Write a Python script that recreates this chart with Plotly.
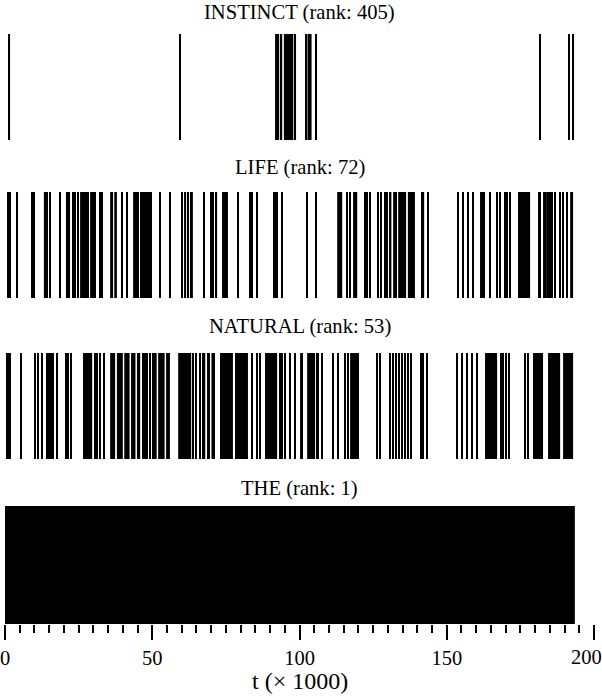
import plotly.graph_objects as go

# Word occurrence positions, t (x 1000 words)
words = ["INSTINCT", "LIFE", "NATURAL", "THE"]
ranks = [405, 72, 53, 1]

instinct_lines = [1.5, 59.4, 93.9, 98.6, 102.1, 105.5, 181.7, 191.6, 193.0]
instinct_blocks = [[91.7, 93.1], [94.7, 97.9], [102.7, 104.1]]

life_lines = [1.0, 1.7, 4.1, 9.2, 9.9, 15.3, 18.7, 23.0, 23.8, 24.8, 28.2, 32.3, 32.9,
              39.7, 41.4, 46.2, 46.9, 47.5, 48.2, 48.9, 49.6, 52.6, 56.0, 60.1, 62.1,
              67.6, 70.0, 70.6, 71.8, 79.1, 83.2, 83.9, 85.6, 94.1, 102.6, 105.6, 116.2,
              117.2, 122.2, 122.9, 123.9, 126.7, 127.7, 129.0, 129.7, 141.6, 142.1, 143.6,
              153.8, 155.5, 157.2, 158.9, 164.7, 167.1, 168.1, 169.8, 170.5, 171.5, 184.4,
              185.0, 185.7, 186.8, 188.5, 189.5, 190.8]
life_blocks = [[13.2, 14.6], [20.7, 22.1], [25.5, 27.9], [28.9, 30.9], [35.7, 36.7],
               [37.1, 38.0], [43.5, 45.5], [60.8, 61.5], [62.8, 63.8], [73.7, 75.7],
               [91.0, 92.7], [112.8, 114.5], [118.2, 119.6], [130.4, 131.2], [131.8, 133.1],
               [133.5, 136.2], [136.8, 139.2], [161.3, 163.0], [174.2, 178.3], [181.0, 182.0],
               [182.7, 184.0], [191.9, 192.9]]

natural_lines = [0.7, 1.2, 1.7, 5.4, 10.2, 11.2, 12.6, 14.3, 14.9, 15.6, 16.3, 17.7, 20.7,
                 21.4, 22.4, 30.6, 31.2, 32.3, 33.6, 46.9, 47.5, 48.2, 49.2, 62.1, 63.0,
                 63.8, 64.9, 66.2, 83.9, 85.6, 86.6, 93.4, 94.1, 95.1, 96.8, 98.5, 106.0,
                 106.4, 107.7, 111.4, 113.1, 115.5, 116.5, 126.3, 127.3, 130.7, 131.8,
                 132.8, 133.8, 134.8, 135.8, 136.8, 137.9, 141.3, 141.9, 143.3, 153.5,
                 155.2, 156.9, 158.6, 160.3, 168.4, 169.1, 170.1, 171.1, 176.6, 177.6]
natural_blocks = [[26.5, 29.6], [35.7, 37.4], [38.0, 40.0], [40.5, 42.3], [42.8, 44.3],
                  [44.8, 45.9], [49.9, 51.5], [52.0, 54.2], [54.7, 56.0], [58.8, 61.8],
                  [66.9, 68.0], [68.6, 69.6], [70.1, 71.3], [73.0, 77.4], [78.1, 82.5],
                  [88.3, 92.4], [100.2, 101.2], [102.6, 105.3], [117.2, 120.2],
                  [163.0, 167.1], [179.3, 182.7], [184.4, 188.5], [189.5, 192.9]]

the_lines = []
the_blocks = [[0.0, 193.5]]

x_ticks = [0, 50, 100, 150, 200]
x_ticklabels = ["0", "50", "100", "150", "200"]

data = [(instinct_lines, instinct_blocks), (life_lines, life_blocks),
        (natural_lines, natural_blocks), (the_lines, the_blocks)]

LINE_W = 0.45
FONT = "Liberation Serif, Times New Roman, serif"

W, H = 602, 696
ml, mr, mt, mb = 5, 8, 0, 72
ph = H - mt - mb
# panel pixel spans (top, bottom) and title centers
panels = [(34, 140), (192, 298), (353, 459), (506, 624)]
title_y = [12, 168, 326, 488]

fig = go.Figure()
for i, (lines, blocks) in enumerate(data):
    xs = list(lines) + [(a + b) / 2 for a, b in blocks]
    ws = [LINE_W] * len(lines) + [b - a for a, b in blocks]
    fig.add_trace(go.Bar(
        x=xs, y=[1] * len(xs), width=ws,
        marker=dict(color="black", line=dict(width=0)),
        xaxis="x" if i == 0 else f"x{i+1}",
        yaxis="y" if i == 0 else f"y{i+1}",
        showlegend=False, hoverinfo="x",
    ))

layout = dict(
    width=W, height=H,
    margin=dict(l=ml, r=mr, t=mt, b=mb, autoexpand=False),
    paper_bgcolor="white", plot_bgcolor="white",
    barmode="overlay", showlegend=False,
    font=dict(family=FONT, color="black"),
)
annotations = []
n = len(panels)
for i, (top, bot) in enumerate(panels):
    sfx = "" if i == 0 else str(i + 1)
    d0 = 1 - (bot - mt) / ph
    d1 = 1 - (top - mt) / ph
    last = i == n - 1
    xa = dict(range=[0, 200], autorange=False, anchor="y" + sfx, showgrid=False,
              zeroline=False, showline=False, fixedrange=True)
    if last:
        # last label drawn separately (nudged inward so it is not clipped)
        xa.update(tickvals=x_ticks, ticktext=x_ticklabels[:-1] + [""],
                  ticks="outside", ticklen=15, tickwidth=1.5,
                  tickcolor="black", showticklabels=True, ticklabeloverflow="allow",
                  tickfont=dict(family=FONT, size=20.5, color="black"),
                  minor=dict(dtick=5, tick0=0, ticks="outside", ticklen=8,
                             tickwidth=1.5, tickcolor="black", showgrid=False))
    else:
        xa.update(showticklabels=False, ticks="")
    layout["xaxis" + sfx] = xa
    layout["yaxis" + sfx] = dict(domain=[max(d0, 0), min(d1, 1)], range=[0, 1],
                                 autorange=False, anchor="x" + sfx, showgrid=False,
                                 zeroline=False, showline=False, showticklabels=False,
                                 ticks="", fixedrange=True)
    annotations.append(dict(
        text=f"{words[i]} (rank: {ranks[i]})", xref="paper", yref="paper",
        x=0.5, y=1 - (title_y[i] - mt) / ph, xanchor="center", yanchor="middle",
        showarrow=False, font=dict(family=FONT, size=20.6, color="black")))

annotations.append(dict(
    text=x_ticklabels[-1], xref=f"x{n}", yref="paper", x=x_ticks[-1], xshift=-8,
    y=1 - (657 - mt) / ph, xanchor="center", yanchor="middle", showarrow=False,
    font=dict(family=FONT, size=20.5, color="black")))

annotations.append(dict(
    text="t (\u00d7 1000)", xref="paper", yref="paper", x=0.5,
    y=1 - (681 - mt) / ph, xanchor="center", yanchor="middle", showarrow=False,
    font=dict(family=FONT, size=24, color="black")))
layout["annotations"] = annotations

fig.update_layout(**layout)
fig.write_html("out.html", config={"displayModeBar": False},
               post_script="document.body.style.margin='0';document.body.style.padding='0';")
